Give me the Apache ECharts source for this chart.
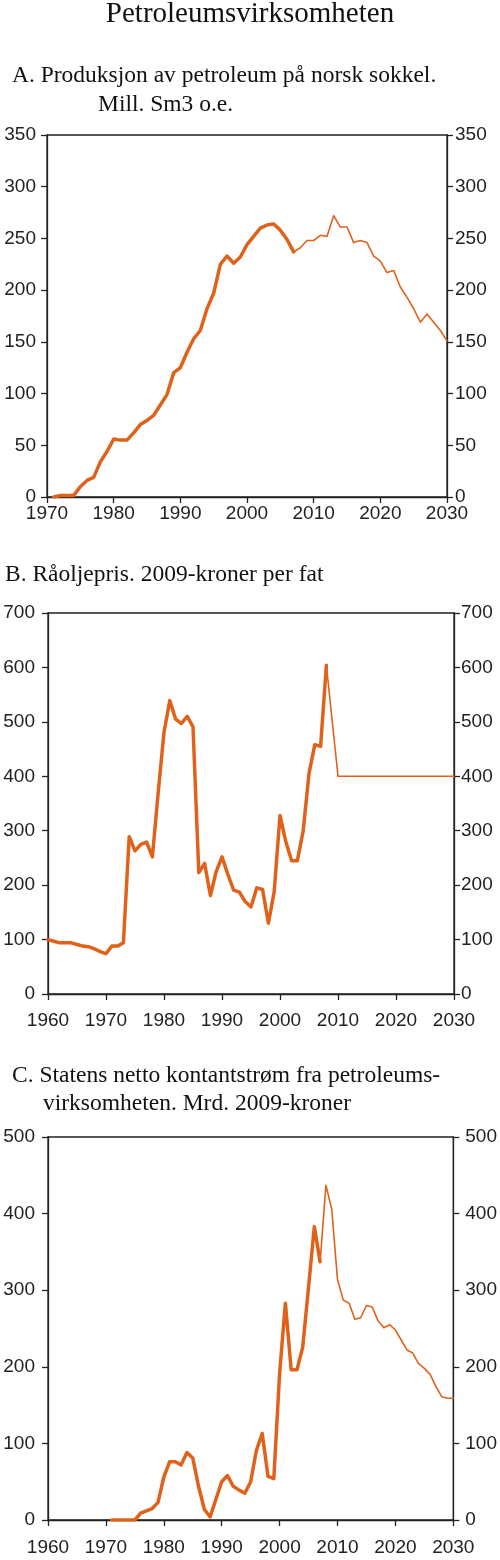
<!DOCTYPE html>
<html><head><meta charset="utf-8">
<script src="https://cdn.jsdelivr.net/npm/echarts@6/dist/echarts.min.js"></script>
<style>html,body{margin:0;padding:0;background:#fff}#c{width:500px;height:1560px}</style>
</head><body><div id="c"></div>
<script>
// ---- Panel A: production (mill. Sm3 o.e.) ----
const prodHistStart = 1971;
const prodHist = [0,1.5,1.5,1.5,10,16,19,34,44,56,55,55,62,70,74,79,89,99,120,125,140,153,161,182,197,225,233,226,232,244,252,260,263,264,258,249,237];
const prodProjStart = 2007;
const prodProj = [237,241,248,248,253,252,272,261,261,246,248,246,233,228,217,219,203,193,182,169,177,169,161,151];
const xTicksA = [1970,1980,1990,2000,2010,2020,2030];
const yTicksA = [0,50,100,150,200,250,300,350];

// ---- Panel B: crude oil price (2009-kroner per barrel) ----
const priceHistStart = 1960;
const priceHist = [100,97,94,94,94,91,88,87,83,78,74,88,88,94,289,263,275,279,252,370,481,539,505,497,510,491,223,240,181,225,252,220,191,187,170,160,195,192,130,188,328,280,245,245,300,405,458,455,604];
const priceProjStart = 2008;
const priceProj = [604,null,400,400,400,400,400,400,400,400,400,400,400,400,400,400,400,400,400,400,400,400,400];
const xTicksB = [1960,1970,1980,1990,2000,2010,2020,2030];
const yTicksB = [0,100,200,300,400,500,600,700];

// ---- Panel C: state net cash flow (bn 2009-kroner) ----
const cashHistStart = 1971;
const cashHist = [0,0,0,0,0,9,12,15,23,56,76,76,72,88,81,44,14,4,27,50,58,44,39,35,50,91,113,57,54,191,283,196,196,226,304,383,337];
const cashProjStart = 2007;
const cashProj = [337,437,406,314,287,283,262,264,280,278,260,251,255,248,235,222,218,204,198,190,174,161,159,159];
const xTicksC = [1960,1970,1980,1990,2000,2010,2020,2030];
const yTicksC = [0,100,200,300,400,500];

const titles = [
  {text:'Petroleumsvirksomheten', left:'center', top:0, size:29},
  {text:'A. Produksjon av petroleum på norsk sokkel.', left:12, top:64, size:23.5},
  {text:'Mill. Sm3 o.e.', left:98, top:93, size:23.5},
  {text:'B. Råoljepris. 2009-kroner per fat', left:5, top:563, size:23.5},
  {text:'C. Statens netto kontantstrøm fra petroleums-', left:12, top:1064, size:23.5},
  {text:'virksomheten. Mrd. 2009-kroner', left:43, top:1092, size:23.5}
];

const COL = '#E0621A';
const AX = '#222';
const SANS = 'Liberation Sans';

function pairs(start, arr){ return arr.map((v,i)=>[start+i, v]); }

const grids = [
  {left:47, right:53, top:135, height:362},
  {left:48, right:46, top:613, height:381},
  {left:48, right:46, top:1137, height:383}
];
const xT = [xTicksA, xTicksB, xTicksC];
const yT = [yTicksA, yTicksB, yTicksC];
const xMargins = [7, 17, 18];
const yLeftMargins = [11, 13, 13];
const yRightMargins = [8, 7, 12];

const xAxis = [], yAxis = [];
for (let i=0;i<3;i++){
  const xt = xT[i], yt = yT[i];
  xAxis.push({
    gridIndex:i, type:'value', min:xt[0], max:xt[xt.length-1], interval:xt[1]-xt[0],
    axisLine:{show:true, onZero:false, lineStyle:{color:AX, width:1.3}},
    axisTick:{show:true, length:6, lineStyle:{color:AX, width:1.3}},
    splitLine:{show:false},
    axisLabel:{fontSize:19, color:AX, fontFamily:SANS, margin:xMargins[i], formatter:v=>String(v)}
  });
  ['left','right'].forEach((pos,k)=>{
    yAxis.push({
      gridIndex:i, type:'value', position:pos, min:yt[0], max:yt[yt.length-1], interval:yt[1]-yt[0],
      axisLine:{show:true, lineStyle:{color:AX, width:1.3}},
      axisTick:{show:true, length:6, lineStyle:{color:AX, width:1.3}},
      splitLine:{show:false},
      axisLabel:{fontSize:19, color:AX, fontFamily:SANS, margin: k===0 ? yLeftMargins[i] : yRightMargins[i], formatter:v=>String(v)}
    });
  });
}

function line(gi, data, thick){
  return {
    type:'line', xAxisIndex:gi, yAxisIndex:gi*2, data:data, showSymbol:false, symbol:'none',
    connectNulls:true, silent:true,
    lineStyle:{color:COL, width: thick ? 3.5 : 1.6, join:'round', cap:'round'}
  };
}

const series = [
  line(0, pairs(prodHistStart, prodHist), true),
  line(0, pairs(prodProjStart, prodProj), false),
  line(1, pairs(priceHistStart, priceHist), true),
  line(1, pairs(priceProjStart, priceProj), false),
  line(2, pairs(cashHistStart, cashHist), true),
  line(2, pairs(cashProjStart, cashProj), false)
];

const chart = echarts.init(document.getElementById('c'), null, {renderer:'canvas'});
chart.setOption({
  animation:false,
  backgroundColor:'#fff',
  title: titles.map(t=>({text:t.text, left:t.left, top:t.top, padding:0,
    textStyle:{fontFamily:'Liberation Serif', fontWeight:'normal', fontSize:t.size, color:'#111'}})),
  grid: grids.map(g=>Object.assign({show:true, borderColor:AX, borderWidth:1.3, backgroundColor:'transparent'}, g)),
  xAxis: xAxis,
  yAxis: yAxis,
  series: series
});
</script></body></html>
